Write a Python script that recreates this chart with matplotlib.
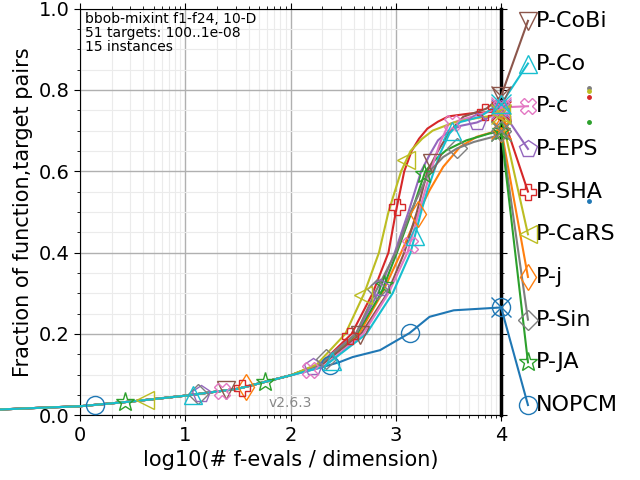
import numpy as np
import matplotlib
matplotlib.use("Agg")
import matplotlib.pyplot as plt
from matplotlib.ticker import FixedLocator, MultipleLocator

# shared low part of all ECDF curves
x_low = [-0.76, -0.4, 0.0, 0.5, 1.0, 1.5, 2.0]
y_low = [0.014, 0.018, 0.022, 0.034, 0.048, 0.065, 0.098]

names = ["NOPCM", "P-j", "P-JA", "P-SHA", "P-EPS", "P-CoBi", "P-c", "P-Sin", "P-CaRS", "P-Co"]
colors = ["#1f77b4", "#ff7f0e", "#2ca02c", "#d62728", "#9467bd",
          "#8c564b", "#e377c2", "#7f7f7f", "#bcbd22", "#17becf"]
markers = ["o", "d", "*", "P", "p", "v", "X", "D", "<", "^"]

x_tail = {
    "NOPCM":  [2.3, 2.47, 2.59, 2.85, 3.13, 3.32, 3.55, 4.0],
    "P-j":    [2.30, 2.65, 2.87, 3.05, 3.22, 3.32, 3.45, 3.61, 3.77, 3.93, 4.0],
    "P-JA":   [2.28, 2.63, 2.86, 3.01, 3.15, 3.28, 3.38, 3.48, 3.67, 3.89, 4.0],
    "P-SHA":  [2.28, 2.58, 2.78, 2.93, 3.00, 3.08, 3.15, 3.22, 3.30, 3.40, 3.5, 3.7, 4.0],
    "P-EPS":  [2.27, 2.62, 2.83, 2.99, 3.12, 3.24, 3.32, 3.40, 3.51, 3.62, 3.77, 3.9, 4.0],
    "P-CoBi": [2.30, 2.67, 2.92, 3.08, 3.20, 3.30, 3.40, 3.52, 3.64, 3.86, 3.96, 4.0],
    "P-c":    [2.31, 2.69, 2.93, 3.11, 3.22, 3.33, 3.42, 3.50, 3.60, 3.80, 4.0],
    "P-Sin":  [2.28, 2.62, 2.80, 3.00, 3.14, 3.32, 3.45, 3.58, 3.74, 3.93, 4.0],
    "P-CaRS": [2.25, 2.52, 2.70, 2.84, 2.93, 3.05, 3.14, 3.25, 3.35, 3.55, 3.75, 3.95, 4.0],
    "P-Co":   [2.32, 2.72, 2.97, 3.14, 3.24, 3.30, 3.42, 3.51, 3.61, 3.80, 3.96, 4.0],
}
y_tail = {
    "NOPCM":  [0.118, 0.131, 0.143, 0.16, 0.202, 0.242, 0.258, 0.265],
    "P-j":    [0.125, 0.2, 0.3, 0.4, 0.5, 0.553, 0.611, 0.66, 0.685, 0.697, 0.705],
    "P-JA":   [0.125, 0.2, 0.3, 0.4, 0.5, 0.6, 0.63, 0.652, 0.676, 0.693, 0.698],
    "P-SHA":  [0.125, 0.2, 0.3, 0.4, 0.5, 0.6, 0.65, 0.68, 0.705, 0.722, 0.735, 0.742, 0.748],
    "P-EPS":  [0.125, 0.2, 0.3, 0.4, 0.5, 0.6, 0.64, 0.676, 0.70, 0.712, 0.72, 0.735, 0.752],
    "P-CoBi": [0.125, 0.2, 0.3, 0.4, 0.5, 0.6, 0.65, 0.70, 0.734, 0.754, 0.775, 0.785],
    "P-c":    [0.12, 0.2, 0.3, 0.4, 0.5, 0.6, 0.67, 0.715, 0.725, 0.74, 0.757],
    "P-Sin":  [0.125, 0.2, 0.3, 0.4, 0.5, 0.6, 0.635, 0.656, 0.672, 0.685, 0.70],
    "P-CaRS": [0.125, 0.2, 0.3, 0.4, 0.5, 0.6, 0.65, 0.68, 0.70, 0.72, 0.73, 0.738, 0.74],
    "P-Co":   [0.12, 0.2, 0.3, 0.4, 0.5, 0.553, 0.644, 0.693, 0.721, 0.734, 0.763, 0.765],
}
marker_x = {
    "NOPCM":  [0.14, 2.37, 3.13, 4.0],
    "P-j":    [1.58, 3.21, 4.0],
    "P-JA":   [0.43, 1.76, 2.89, 3.27, 4.0],
    "P-SHA":  [1.54, 2.56, 3.01, 3.85, 4.0],
    "P-EPS":  [1.15, 2.21, 2.85, 3.77, 4.0],
    "P-CoBi": [1.39, 2.66, 3.34, 4.0],
    "P-c":    [1.35, 2.18, 3.13, 3.53, 4.0],
    "P-Sin":  [1.12, 2.34, 2.82, 3.58, 4.0],
    "P-CaRS": [0.62, 2.69, 3.10, 4.0],
    "P-Co":   [1.07, 2.39, 3.18, 3.53, 4.0],
}

# legend order (top to bottom) and label heights
label_order = ["P-CoBi", "P-Co", "P-c", "P-EPS", "P-SHA", "P-CaRS", "P-j", "P-Sin", "P-JA", "NOPCM"]
label_y = [0.97, 0.865, 0.76, 0.655, 0.55, 0.445, 0.34, 0.235, 0.13, 0.025]

# small dots right of the labels
dot_names = ["P-Sin", "P-CaRS", "P-SHA", "P-JA", "NOPCM"]
dot_y = [0.804, 0.797, 0.782, 0.721, 0.526]

fig = plt.figure(figsize=(6.4, 4.8), dpi=100)
ax = fig.add_axes([0.125, 0.135, 0.658, 0.847])

style = {n: (c, m) for n, c, m in zip(names, colors, markers)}
msize = {"D": 10, "*": 14, "P": 12, "X": 12}

for n in names:
    c, m = style[n]
    xs = np.array(x_low + x_tail[n])
    ys = np.array(y_low + y_tail[n])
    ax.plot(xs, ys, "-", color=c, lw=1.5, clip_on=False, zorder=3)
    mx = np.array(marker_x[n])
    my = np.interp(mx, xs, ys)
    ax.plot(mx, my, ls="none", marker=m, ms=msize.get(m, 13), mfc="none",
            mec=c, mew=1.0, clip_on=False, zorder=4)
    ax.plot([4.0], [ys[-1]], ls="none", marker="x", ms=14, mec=c, mew=1,
            clip_on=False, zorder=4)

for n, ly in zip(label_order, label_y):
    c, m = style[n]
    yend = y_tail[n][-1]
    ax.plot([4.0, 4.255], [yend, ly], "-", color=c, lw=1.5, clip_on=False, zorder=3)
    ax.plot([4.255], [ly], ls="none", marker=m, ms=msize.get(m, 13), mfc="none",
            mec=c, mew=1.0, clip_on=False, zorder=4)
    ax.text(4.33, ly, n, fontsize=16, va="center", ha="left")

for n, dy in zip(dot_names, dot_y):
    ax.plot([4.83], [dy], ls="none", marker="o", ms=2.5, color=style[n][0], clip_on=False)

ax.set_xlim(0, 4)
ax.set_ylim(0, 1)
ax.xaxis.set_major_locator(FixedLocator([0, 1, 2, 3, 4]))
minors = [k + np.log10(j) for k in range(4) for j in range(2, 10)]
ax.xaxis.set_minor_locator(FixedLocator(minors))
ax.yaxis.set_major_locator(MultipleLocator(0.2))
ax.yaxis.set_minor_locator(MultipleLocator(0.05))
ax.tick_params(which="both", top=True, right=True, direction="out")
ax.tick_params(which="major", labelsize=14, length=4)
ax.tick_params(which="minor", length=2.5)
ax.grid(which="major", color="#b0b0b0", lw=1)
ax.grid(which="minor", color="#ebebeb", lw=0.8)
ax.set_axisbelow(True)
ax.spines["right"].set_linewidth(2.5)

ax.set_xlabel("log10(# f-evals / dimension)", fontsize=15)
ax.set_ylabel("Fraction of function,target pairs", fontsize=15)
ax.text(0.012, 0.992, "bbob-mixint f1-f24, 10-D\n51 targets: 100..1e-08\n15 instances",
        transform=ax.transAxes, fontsize=10, va="top", ha="left", linespacing=1.0)
ax.text(2.2, 0.012, "v2.6.3", fontsize=10, color="#888888", ha="right", va="bottom")

fig.savefig("out.png", dpi=100)
